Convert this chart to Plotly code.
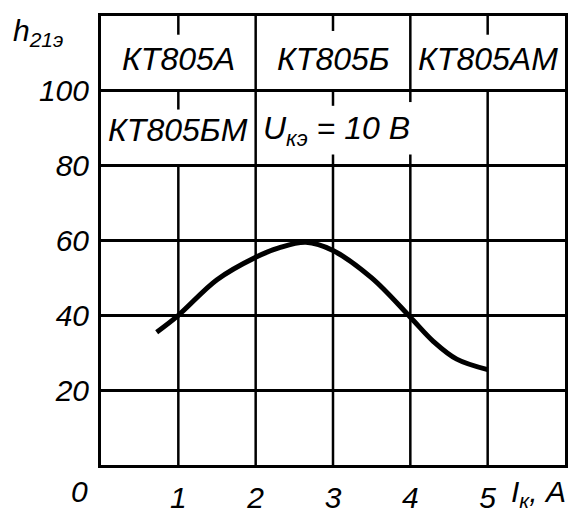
import plotly.graph_objects as go

# Curve h21э vs Iк
ik_amps = [0.72, 1.0, 1.5, 2.0, 2.3, 2.65, 3.0, 3.5, 4.0, 4.3, 4.6, 5.0]
h21e = [35.5, 40.0, 49.5, 55.5, 58.0, 59.5, 57.3, 50.0, 39.5, 33.0, 28.3, 25.5]

x_ticks = [1, 2, 3, 4, 5]
x_tick_labels = ["1", "2", "3", "4", "5"]
y_ticks = [20, 40, 60, 80, 100]
y_tick_labels = ["20", "40", "60", "80", "100"]

FONT = "Liberation Sans, DejaVu Sans, sans-serif"
INK = "black"

fig = go.Figure()
fig.add_trace(go.Scatter(
    x=ik_amps, y=h21e, mode="lines",
    line=dict(color=INK, width=5, shape="spline", smoothing=1.0),
    hoverinfo="skip", showlegend=False,
))

# partial vertical grid lines (drawn in data coordinates)
vsegs = [
    (1, 0, 80), (1, 95, 100), (1, 115, 120),
    (2, 0, 120),
    (3, 0, 83), (3, 96, 100), (3, 116, 120),
    (4, 0, 83), (4, 97, 120),
    (5, 0, 100), (5, 115, 120),
]
shapes = []
for x, y0, y1 in vsegs:
    shapes.append(dict(type="line", xref="x", yref="y", x0=x, x1=x, y0=y0, y1=y1,
                       line=dict(color=INK, width=2.5), layer="below"))

tf = dict(family=FONT, size=30, color=INK, style="italic")
cell_font = dict(family=FONT, size=32, color=INK, style="italic")

annotations = [
    dict(x=1.0, y=108.5, xref="x", yref="y", text="КТ805А", showarrow=False, font=cell_font),
    dict(x=3.0, y=108.5, xref="x", yref="y", text="КТ805Б", showarrow=False, font=cell_font),
    dict(x=5.0, y=108.5, xref="x", yref="y", text="КТ805АМ", showarrow=False, font=cell_font),
    dict(x=1.0, y=89.5, xref="x", yref="y", text="КТ805БМ", showarrow=False, font=cell_font),
    dict(x=2.07, y=89.5, xref="x", yref="y", text="U<sub>кэ</sub> = 10 В", showarrow=False,
         xanchor="left", font=cell_font),
    dict(x=-0.07, y=0, xref="paper", yref="paper", text="0", showarrow=False,
         yanchor="top", yshift=-8, font=tf),
    dict(x=5.28, y=0, xref="x", yref="y", text="I<sub>к</sub>, A", showarrow=False,
         xanchor="left", yanchor="top", yshift=-8, font=tf),
    dict(x=-0.195, y=1, xref="paper", yref="paper", text="h<sub>21э</sub>", showarrow=False,
         xanchor="left", yanchor="top", yshift=4, font=tf),
]

fig.update_layout(
    width=576, height=511,
    margin=dict(l=93, r=19, t=5, b=46),
    paper_bgcolor="white", plot_bgcolor="white",
    shapes=shapes, annotations=annotations,
    xaxis=dict(range=[0, 6], tickvals=x_ticks, ticktext=x_tick_labels,
               showgrid=False, zeroline=False, showline=True, mirror=True,
               linecolor=INK, linewidth=3, ticks="", tickfont=tf, ticklabelstandoff=4),
    yaxis=dict(range=[0, 120], tickvals=y_ticks, ticktext=y_tick_labels,
               showgrid=True, gridcolor=INK, gridwidth=3, zeroline=False,
               showline=True, mirror=True, linecolor=INK, linewidth=3,
               ticks="", tickfont=tf, ticklabelstandoff=3),
)

fig.write_html("out.html")
